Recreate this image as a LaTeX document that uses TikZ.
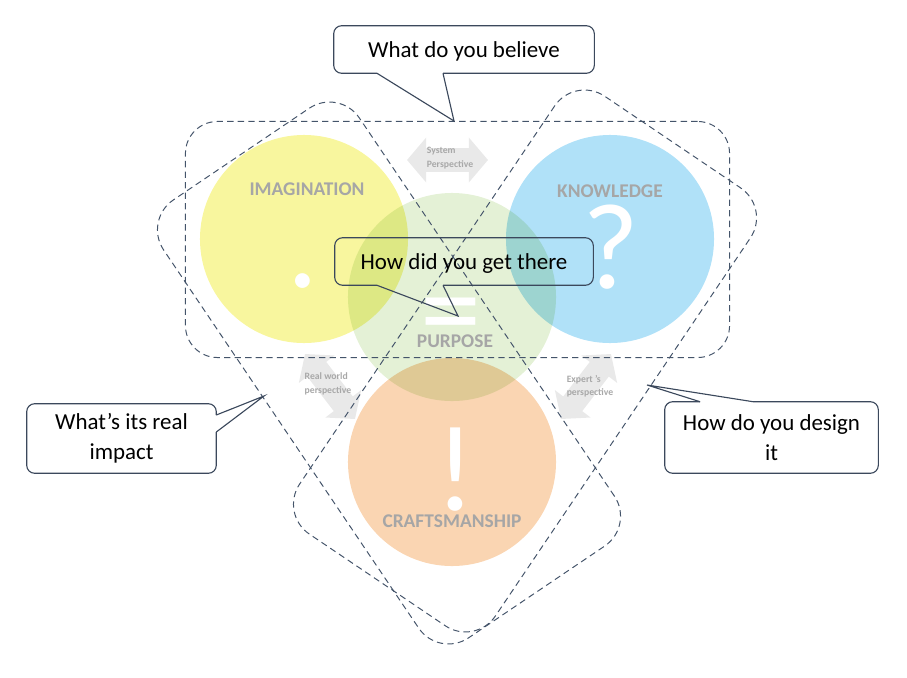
\documentclass[tikz,border=0pt]{standalone}
\usepackage{fontspec}
\setmainfont{Carlito}
\usepackage{tikz}
\usetikzlibrary{calc, arrows.meta}
\usepackage{xcolor}

\definecolor{imagyellow}{RGB}{248,246,158}
\definecolor{knowblue}{RGB}{176,225,248}
\definecolor{craftorange}{RGB}{250,213,178}
\definecolor{purposegreen}{RGB}{228,241,214}
\definecolor{labelgray}{RGB}{166,166,166}
\definecolor{arrowgray}{RGB}{233,233,233}
\definecolor{viewgray}{RGB}{168,168,168}
\definecolor{zoneline}{RGB}{68,84,106}
\definecolor{sayblue}{RGB}{59,72,92}

\begin{document}
\begin{tikzpicture}[
        x=0.025cm, y=-0.025cm,
        circ/.style={
            circle,
            minimum size=5.2cm,
            inner sep=0pt
        },
        circtitle/.style={
            font=\fontsize{13.8}{16}\selectfont\bfseries,
            text=labelgray,
            inner sep=1pt
        },
        glyph/.style={
            font=\fontsize{87}{87}\selectfont,
            text=white,
            inner sep=0pt,
            text height=0.66em,
            text depth=0pt,
            anchor=base
        },
        zone/.style={
            draw=zoneline,
            dash pattern=on 4.5pt off 3pt,
            line width=0.7pt,
            rounded corners=0.8cm,
            minimum width=13.6cm,
            minimum height=5.9cm,
            inner sep=0pt
        },
        view/.style={
            draw=arrowgray,
            line width=0.6cm,
            {Triangle[length=0.48cm, width=1.1cm]}-{Triangle[length=0.48cm, width=1.1cm]}
        },
        viewtext/.style={
            font=\fontsize{6.9}{9.5}\selectfont\bfseries,
            text=viewgray,
            align=left
        },
        say/.style={
            font=\fontsize{16.3}{21.3}\selectfont,
            align=center,
            inner sep=0pt
        },
        sayline/.style={
            draw=sayblue,
            line width=0.8pt,
            rounded corners=0.2cm
        },
        saytip/.style={
            draw=sayblue,
            line width=0.8pt
        }
    ]

        \useasboundingbox (0,0) rectangle (907,677);

        % circles
        \node[circ, fill=imagyellow] (imagination) at (304,239) {};
        \node[circ, fill=knowblue] (knowledge) at (610,239) {};
        \node[circ, fill=craftorange] (craft) at (452,462) {};
        \begin{scope}[blend mode=multiply]
            \node[circ, fill=purposegreen] (purpose) at (452,297) {};
        \end{scope}

        \node[glyph, text height=0.12em] (imaginationmark) at (303,287) {.};
        \node[glyph] (knowledgemark) at (611,288) {?};
        \node[glyph, text height=0.45em, text depth=-0.19em] (purposemark) at (451,350) {=};
        \node[glyph] (craftmark) at (455,510) {!};

        \node[circtitle] (imaginationtitle) at (307,189) {IMAGINATION};
        \node[circtitle] (knowledgetitle) at (610,191) {KNOWLEDGE};
        \node[circtitle] (purposetitle) at (455,341) {PURPOSE};
        \node[circtitle] (crafttitle) at (452,521) {CRAFTSMANSHIP};

        % perspectives
        \coordinate (sysleft) at (407,160);
        \coordinate (sysright) at (488,160);
        \coordinate (realtop) at (305,354);
        \coordinate (realbottom) at (355,419);
        \coordinate (experttop) at (611,354);
        \coordinate (expertbottom) at (561,419);

        \draw[view] (sysleft) -- (sysright);
        \draw[view] (realtop) -- (realbottom);
        \draw[view] (experttop) -- (expertbottom);

        \node[viewtext] (systext) at (450,158) {System\\Perspective};
        \node[viewtext] (realtext) at (328,384) {Real world\\perspective};
        \node[viewtext] (experttext) at (590,386) {Expert 's\\perspective};

        % dashed zones
        \node[zone] (believezone) at (457.5,239.5) {};
        \node[zone, rotate=-56, minimum width=13.2cm, rounded corners=0.9cm] (impactzone) at (389,373) {};
        \node[zone, rotate=56, minimum width=13.2cm, rounded corners=0.9cm] (designzone) at (525,361) {};

        % callouts
        \node[say, text depth=0pt, minimum width=6.5cm, minimum height=1.175cm] (believe) at (464,49.5) {What do you believe};
        \coordinate (believetip) at (454,121);
        \draw[sayline] ($(believe.south)+(-21,0)$) -| (believe.north east) -| (believe.south west) -- ($(believe.south)+(-87,0)$);
        \draw[saytip] ($(believe.south)+(-87,0)$) -- (believetip) -- ($(believe.south)+(-21,0)$);

        \node[say, text depth=0pt, minimum width=6.45cm, minimum height=1.175cm] (gotthere) at (464,261.5) {How did you get there};
        \coordinate (gottheretip) at (458,316);
        \draw[sayline] ($(gotthere.south)+(-21,0)$) -| (gotthere.north east) -| (gotthere.south west) -- ($(gotthere.south)+(-87,0)$);
        \draw[saytip] ($(gotthere.south)+(-87,0)$) -- (gottheretip) -- ($(gotthere.south)+(-21,0)$);

        \node[say, minimum width=4.725cm, minimum height=1.725cm] (impact) at (121.5,438.5) {What’s its real\\impact};
        \coordinate (impacttip) at (264,396);
        \draw[sayline] ($(impact.east)+(0,-6.5)$) |- (impact.south west) |- (impact.north east) -- ($(impact.east)+(0,-23.5)$);
        \draw[saytip] ($(impact.east)+(0,-23.5)$) -- (impacttip) -- ($(impact.east)+(0,-6.5)$);

        \node[say, minimum width=5.325cm, minimum height=1.775cm] (design) at (771.5,437.5) {How do you design\\it};
        \coordinate (designtip) at (647,385);
        \draw[sayline] ($(design.north)+(-18.5,0)$) -| (design.south east) -| (design.north west) -- ($(design.north)+(-71.5,0)$);
        \draw[saytip] ($(design.north)+(-71.5,0)$) -- (designtip) -- ($(design.north)+(-18.5,0)$);

    \end{tikzpicture}
\end{document}
